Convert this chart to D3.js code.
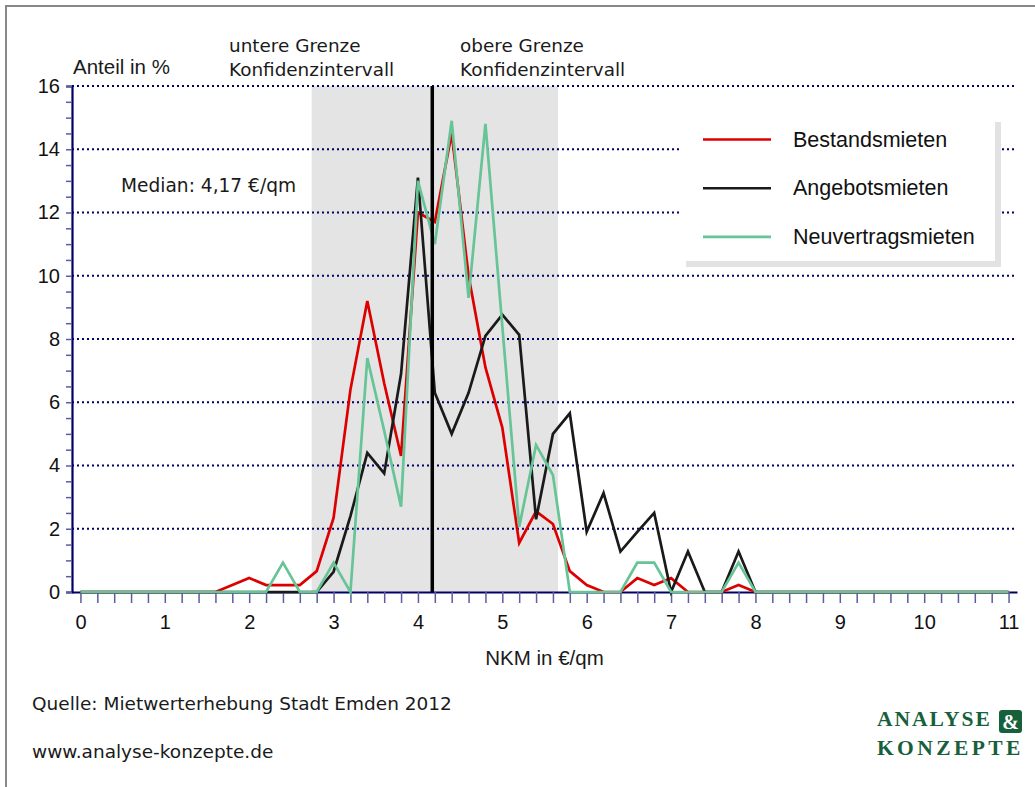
<!DOCTYPE html>
<html>
<head>
<meta charset="utf-8">
<script src="https://cdn.jsdelivr.net/npm/d3@7"></script>
<style>
  body { margin: 0; background: #fff; }
  svg { display: block; }
</style>
</head>
<body>
<div id="chart"></div>
<script>
// Verteilung der Nettokaltmieten (NKM), Anteil in % je 0,20 €-Klasse

var nkm = [0, 0.2, 0.4, 0.6, 0.8, 1, 1.2, 1.4, 1.6, 1.8,
           2, 2.2, 2.4, 2.6, 2.8, 3, 3.2, 3.4, 3.6, 3.8,
           4, 4.2, 4.4, 4.6, 4.8, 5, 5.2, 5.4, 5.6, 5.8,
           6, 6.2, 6.4, 6.6, 6.8, 7, 7.2, 7.4, 7.6, 7.8,
           8, 8.2, 8.4, 8.6, 8.8, 9, 9.2, 9.4, 9.6, 9.8,
           10, 10.2, 10.4, 10.6, 10.8, 11];

var bestandsmieten = [0, 0, 0, 0, 0, 0, 0, 0, 0, 0.22,
                      0.44, 0.22, 0.22, 0.22, 0.66, 2.34, 6.4, 9.2, 6.6, 4.3,
                      12.0, 11.7, 14.5, 10.0, 7.1, 5.2, 1.55, 2.55, 2.15, 0.66,
                      0.22, 0, 0, 0.44, 0.22, 0.44, 0, 0, 0, 0.22,
                      0, 0, 0, 0, 0, 0, 0, 0, 0, 0,
                      0, 0, 0, 0, 0, 0];

var angebotsmieten = [0, 0, 0, 0, 0, 0, 0, 0, 0, 0,
                      0, 0, 0, 0, 0, 0.64, 2.4, 4.4, 3.75, 6.9,
                      13.1, 6.3, 5.0, 6.3, 8.1, 8.77, 8.13, 2.3, 5.0, 5.65,
                      1.9, 3.13, 1.28, 1.9, 2.5, 0, 1.28, 0, 0, 1.28,
                      0, 0, 0, 0, 0, 0, 0, 0, 0, 0,
                      0, 0, 0, 0, 0, 0];

var neuvertragsmieten = [0, 0, 0, 0, 0, 0, 0, 0, 0, 0,
                         0, 0, 0.93, 0, 0, 0.93, 0, 7.4, 5.1, 2.7,
                         13.0, 11.0, 14.9, 9.3, 14.8, 8.4, 2.06, 4.65, 3.7, 0,
                         0, 0, 0, 0.93, 0.93, 0, 0, 0, 0, 0.93,
                         0, 0, 0, 0, 0, 0, 0, 0, 0, 0,
                         0, 0, 0, 0, 0, 0];

var seriesNames = ["Bestandsmieten", "Angebotsmieten", "Neuvertragsmieten"];
var seriesColors = ["#dd0000", "#1a1a1a", "#66c497"];

var median = 4.17;
var konfidenz = [2.74, 5.66];

var xTickLabels = [0, 1, 2, 3, 4, 5, 6, 7, 8, 9, 10, 11];
var yTickLabels = [0, 2, 4, 6, 8, 10, 12, 14, 16];

//////////////////////////////////////////////////////////////////////////////
// Setup

var width = 1035, height = 787;
var arial = "'Liberation Sans', Arial, sans-serif";
var tahoma = "'DejaVu Sans', Tahoma, sans-serif";
var navy = "#000066";

var svg = d3.select("#chart").append("svg")
    .attr("width", width)
    .attr("height", height);

var xScale = d3.scaleLinear().domain([-0.1, 11.1]).range([72, 1017]);
var yScale = d3.scaleLinear().domain([0, 16]).range([592, 86]);

// frame (top and left only)
svg.append("line").attr("x1", 6).attr("x2", width).attr("y1", 6).attr("y2", 6)
    .attr("stroke", "#888").attr("stroke-width", 2);
svg.append("line").attr("x1", 6).attr("x2", 6).attr("y1", 5).attr("y2", height)
    .attr("stroke", "#888").attr("stroke-width", 2);

// confidence band
svg.append("rect")
    .attr("x", xScale(konfidenz[0]))
    .attr("y", yScale(16))
    .attr("width", xScale(konfidenz[1]) - xScale(konfidenz[0]))
    .attr("height", yScale(0) - yScale(16))
    .attr("fill", "#e4e4e4");

// dotted grid
svg.append("g")
    .selectAll("line")
    .data(yTickLabels.filter(d => d > 0))
    .enter()
    .append("line")
    .attr("x1", xScale(-0.1))
    .attr("x2", xScale(11.1))
    .attr("y1", d => yScale(d))
    .attr("y2", d => yScale(d))
    .attr("stroke", navy)
    .attr("stroke-width", 2)
    .attr("stroke-dasharray", "2,3");

// y axis: minor ticks every 0.5, labels on even values
var yAxis = d3.axisLeft(yScale)
    .tickValues(d3.range(0, 16.01, 0.5))
    .tickSize(6)
    .tickFormat(d => yTickLabels.indexOf(d) >= 0 ? d : "");

var gy = svg.append("g")
    .attr("transform", "translate(" + xScale(-0.1) + ",0)")
    .call(yAxis);
gy.select(".domain").attr("stroke", navy).attr("stroke-width", 2.2);
gy.selectAll(".tick line").attr("stroke", "#5c5ca0").attr("stroke-width", 1.5);
gy.selectAll(".tick text")
    .attr("x", -12)
    .attr("fill", "#111")
    .style("font-family", arial)
    .style("font-size", "20px");

// x axis: ticks every 0.2, labels on integers
var xAxis = d3.axisBottom(xScale)
    .tickValues(nkm)
    .tickSize(11)
    .tickSizeOuter(0)
    .tickFormat(d => xTickLabels.indexOf(d) >= 0 ? d : "");

var gx = svg.append("g")
    .attr("transform", "translate(0," + yScale(0) + ")")
    .call(xAxis);
gx.select(".domain").attr("stroke", navy).attr("stroke-width", 2.2);
gx.selectAll(".tick line").attr("stroke", "#5c5ca0").attr("stroke-width", 1.5);
gx.selectAll(".tick text")
    .attr("y", 23)
    .attr("fill", "#111")
    .style("font-family", arial)
    .style("font-size", "20px");

// lines
var line = d3.line()
    .x((d, i) => xScale(nkm[i]))
    .y(d => yScale(d));

svg.append("g")
    .selectAll("path")
    .data([bestandsmieten, angebotsmieten, neuvertragsmieten])
    .enter()
    .append("path")
    .attr("d", line)
    .attr("fill", "none")
    .attr("stroke", (d, i) => seriesColors[i])
    .attr("stroke-width", 2.7)
    .attr("stroke-linejoin", "miter");

// median
svg.append("line")
    .attr("x1", xScale(median)).attr("x2", xScale(median))
    .attr("y1", yScale(16)).attr("y2", yScale(0))
    .attr("stroke", "#000")
    .attr("stroke-width", 3.5);

// texts
function label(x, y, txt, font, size) {
    svg.append("text")
        .attr("x", x).attr("y", y)
        .attr("fill", "#1a1a1a")
        .style("font-family", font)
        .style("font-size", size + "px")
        .text(txt);
}

label(73, 74, "Anteil in %", arial, 20.5);
label(229, 52, "untere Grenze", tahoma, 18.4);
label(229, 76, "Konfidenzintervall", tahoma, 18.4);
label(460, 52, "obere Grenze", tahoma, 18.4);
label(460, 76, "Konfidenzintervall", tahoma, 18.4);
label(121, 192, "Median: 4,17 €/qm", tahoma, 18.6);
label(32, 710, "Quelle: Mietwerterhebung Stadt Emden 2012", tahoma, 18.5);
label(32, 758, "www.analyse-konzepte.de", tahoma, 18.5);

svg.append("text")
    .attr("x", (xScale(-0.1) + xScale(11.1)) / 2)
    .attr("y", 665)
    .attr("text-anchor", "middle")
    .attr("fill", "#1a1a1a")
    .style("font-family", arial)
    .style("font-size", "20.5px")
    .text("NKM in €/qm");

// legend
var legend = svg.append("g").attr("transform", "translate(680,116)");
legend.append("rect")
    .attr("x", 6).attr("y", 6).attr("width", 315).attr("height", 145)
    .attr("fill", "#e2e2e2");
legend.append("rect")
    .attr("x", 0).attr("y", 0).attr("width", 315).attr("height", 145)
    .attr("fill", "#fff");

var items = legend.selectAll(".item")
    .data(seriesNames)
    .enter()
    .append("g")
    .attr("transform", (d, i) => "translate(0," + (23.5 + i * 48.7) + ")");
items.append("line")
    .attr("x1", 23).attr("x2", 91)
    .attr("stroke", (d, i) => seriesColors[i])
    .attr("stroke-width", 2.6);
items.append("text")
    .attr("x", 113)
    .attr("y", 7)
    .attr("fill", "#111")
    .style("font-family", arial)
    .style("font-size", "21.5px")
    .text(d => d);

// logo
var green = "#17603c";
var logo = svg.append("g");
logo.append("text")
    .attr("x", 877).attr("y", 726)
    .attr("fill", green)
    .style("font-family", "'Liberation Serif', 'Times New Roman', serif")
    .style("font-weight", "bold")
    .style("font-size", "21.5px")
    .style("letter-spacing", "2px")
    .text("ANALYSE");
logo.append("rect")
    .attr("x", 999).attr("y", 710).attr("width", 23).attr("height", 23)
    .attr("rx", 3)
    .attr("fill", green);
logo.append("text")
    .attr("x", 1010.5).attr("y", 728.5)
    .attr("text-anchor", "middle")
    .attr("fill", "#fff")
    .style("font-family", "'Liberation Serif', 'Times New Roman', serif")
    .style("font-weight", "bold")
    .style("font-size", "20px")
    .text("&");
logo.append("text")
    .attr("x", 877).attr("y", 755)
    .attr("fill", green)
    .style("font-family", "'Liberation Serif', 'Times New Roman', serif")
    .style("font-weight", "bold")
    .style("font-size", "21.5px")
    .style("letter-spacing", "3.4px")
    .text("KONZEPTE");
</script>
</body>
</html>
